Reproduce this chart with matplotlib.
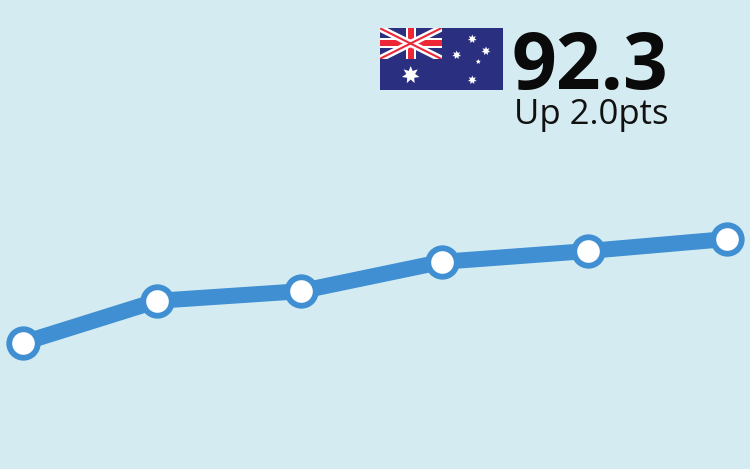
import matplotlib
matplotlib.use("Agg")
import matplotlib.pyplot as plt
from matplotlib.patches import Rectangle, Polygon
import numpy as np

days = [0, 28, 58, 87.5, 118, 147]
index_values = [75.0, 82.0, 83.6, 88.5, 90.3, 92.3]
headline = "92.3"
change_label = "Up 2.0pts"

BG = "#d4ecf1"
BLUE = "#3f8fd2"
NAVY = "#2a2f80"
RED = "#ee2737"

fig = plt.figure(figsize=(7.5, 4.69), dpi=100, facecolor=BG)
ax = fig.add_axes([0, 0, 1, 1])
ax.set_facecolor(BG)
ax.plot(days, index_values, color=BLUE, lw=11.5, solid_capstyle="butt", zorder=2)
ax.plot(days, index_values, ls="none", marker="o", ms=20.5, mfc="white",
        mec=BLUE, mew=4.2, zorder=3)
ax.set_xlim(-4.8, 151.8)
ax.set_ylim(53.97, 132.13)
ax.axis("off")

# Overlay in pixel coordinates for the flag and the headline
ov = fig.add_axes([0, 0, 1, 1])
ov.set_xlim(0, 750)
ov.set_ylim(469, 0)
ov.axis("off")
ov.patch.set_alpha(0)

ov.add_patch(Rectangle((379.5, 28), 123.5, 62, fc=NAVY, ec="none"))
cx0, cy0, cx1, cy1 = 379.5, 28, 441.5, 59
cx, cy = (cx0 + cx1) / 2, (cy0 + cy1) / 2
clip = Rectangle((cx0, cy0), cx1 - cx0, cy1 - cy0, transform=ov.transData)
for (a, b), w, c in [(((cx0, cy0), (cx1, cy1)), 5.0, "white"),
                     (((cx0, cy1), (cx1, cy0)), 5.0, "white"),
                     (((cx0, cy0), (cx1, cy1)), 1.5, RED),
                     (((cx0, cy1), (cx1, cy0)), 1.5, RED)]:
    l, = ov.plot([a[0], b[0]], [a[1], b[1]], color=c, lw=w, solid_capstyle="butt")
    l.set_clip_path(clip)
ov.add_patch(Rectangle((cx - 5, cy0), 10, cy1 - cy0, fc="white", ec="none"))
ov.add_patch(Rectangle((cx0, cy - 5), cx1 - cx0, 10, fc="white", ec="none"))
ov.add_patch(Rectangle((cx - 3, cy0), 6, cy1 - cy0, fc=RED, ec="none"))
ov.add_patch(Rectangle((cx0, cy - 3), cx1 - cx0, 6, fc=RED, ec="none"))

def star(x, y, r, n=7, inner=0.5):
    ang = np.arange(2 * n) * np.pi / n - np.pi / 2
    rad = np.where(np.arange(2 * n) % 2 == 0, r, r * inner)
    ov.add_patch(Polygon(np.c_[x + rad * np.cos(ang), y + rad * np.sin(ang)],
                         fc="white", ec="none"))

star(410.7, 75, 9)
star(472.3, 39, 4.5)
star(486, 51, 4.5)
star(456.7, 55, 4.5)
star(472.3, 80, 4.5)
star(478.3, 61.7, 2.6, n=5)

ov.text(668, 88.5, headline, ha="right", va="baseline", family="Open Sans",
        weight="bold", fontsize=56.5, color="#0a0a0a")
ov.text(668, 124, change_label, ha="right", va="baseline", family="Open Sans",
        fontsize=25, color="#111111")

fig.savefig("out.png", dpi=100, facecolor=BG)
